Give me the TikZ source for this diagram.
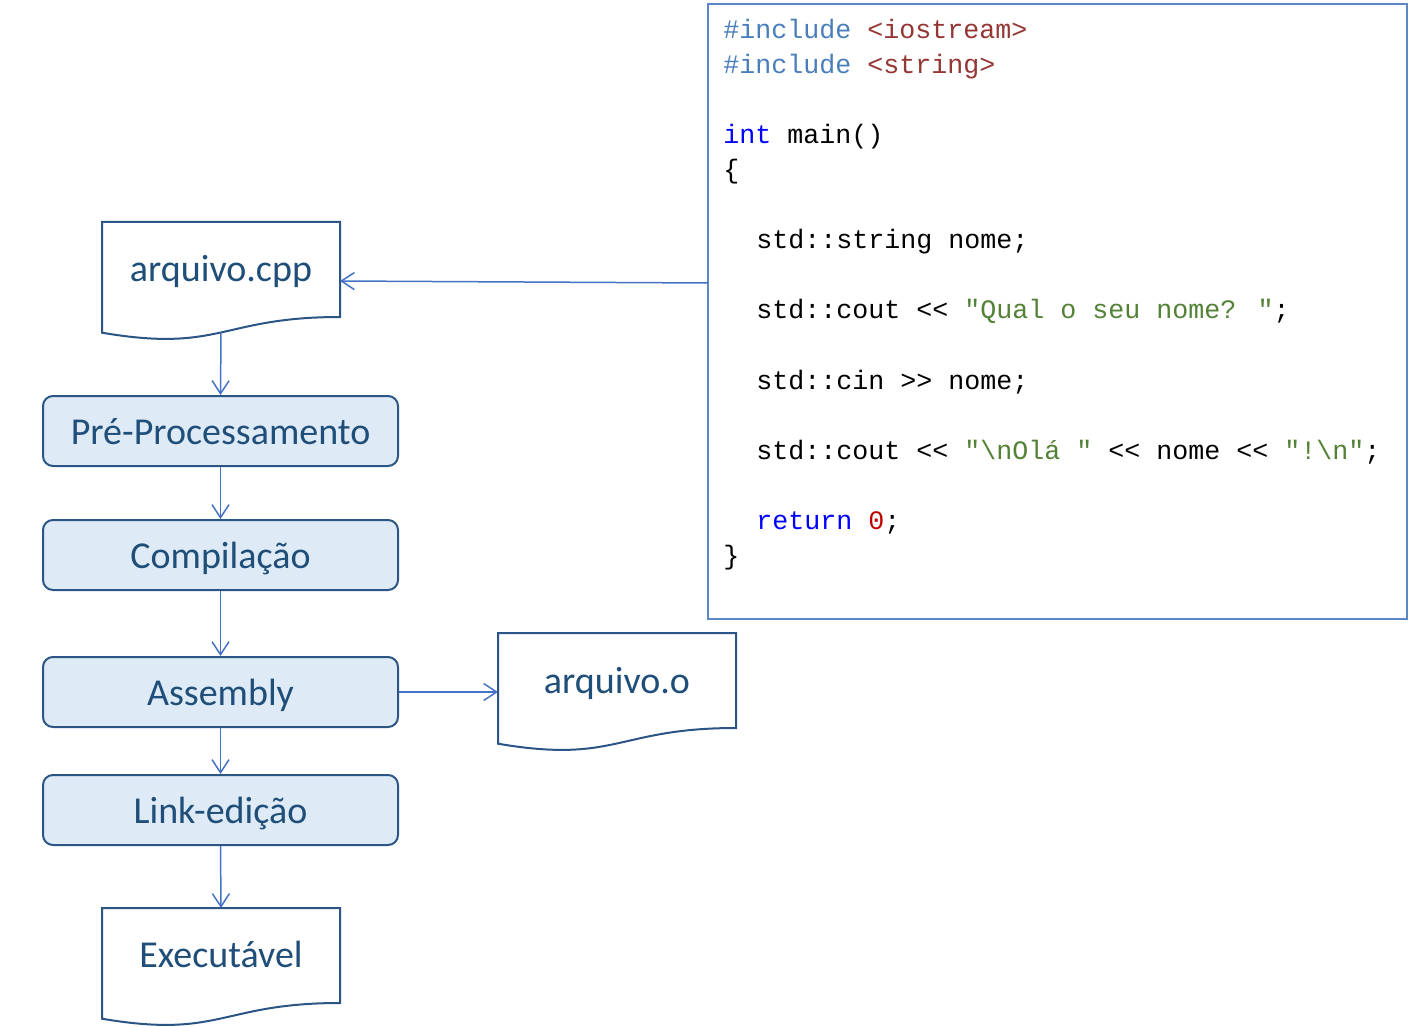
\documentclass[tikz,border=0pt]{standalone}
\usepackage{fontspec}
\setmainfont{Carlito}
\newfontfamily\codefont{Liberation Mono}[Ligatures=TeXOff]
\usetikzlibrary{arrows.meta}
\definecolor{lbl}{HTML}{1F4E79}
\definecolor{boxfill}{HTML}{DEEBF7}
\definecolor{boxline}{HTML}{2B5584}
\definecolor{flowc}{HTML}{4472C4}
\definecolor{codeline}{HTML}{5B88C4}
\definecolor{incl}{HTML}{4A7EBB}
\definecolor{hdr}{HTML}{943634}
\definecolor{kw}{HTML}{0000FF}
\definecolor{num}{HTML}{C00000}
\definecolor{str}{HTML}{538135}
\begin{document}
\begin{tikzpicture}[x=0.5pt,y=-0.5pt,
  stepbox/.style={draw=boxline, fill=boxfill, line width=1pt, rounded corners=5pt,
    minimum width=177.5pt, minimum height=35pt, inner sep=0pt,
    text height=15pt, text depth=1.8pt,
    font=\fontsize{19}{22}\selectfont, text=lbl},
  doctext/.style={anchor=base, inner sep=0pt, font=\fontsize{19}{22}\selectfont, text=lbl},
  docline/.style={draw=boxline, line width=1pt, fill=white},
  flow/.style={draw=flowc, line width=0.75pt, -{Straight Barb[length=6.5pt,width=8.5pt,line width=0.75pt]}},
  codetxt/.style={anchor=base west, inner sep=0pt, font=\codefont\fontsize{13.33}{16}\selectfont, text=black},
  docshape/.pic={\path[docline] (0,0) -- (238,0) -- (238,95) .. controls (119,95) and (119,131) .. (0,110.7) -- cycle;}
]
\useasboundingbox (0,0) rectangle (1408,1027);

% code box
\node[draw=codeline, line width=1pt, minimum width=349.5pt, minimum height=307.5pt, inner sep=0pt] (code) at (1057.5,311.5) {};
\node[codetxt] (c1) at (723,38.5) {\textcolor{incl}{\#include} \textcolor{hdr}{<iostream>}};
\node[codetxt] (c2) at (723,73.5) {\textcolor{incl}{\#include} \textcolor{hdr}{<string>}};
\node[codetxt] (c3) at (723,143.5) {\textcolor{kw}{int} main()};
\node[codetxt] (c4) at (723,179) {\{};
\node[codetxt] (c5) at (756,249) {std::string nome;};
\node[codetxt] (c6) at (756,319) {std::cout << \textcolor{str}{"Qual o seu nome? "};};
\node[codetxt] (c7) at (756,389) {std::cin >> nome;};
\node[codetxt] (c8) at (756,459) {std::cout << \textcolor{str}{"\textbackslash nOlá "} << nome << \textcolor{str}{"!\textbackslash n"};};
\node[codetxt] (c9) at (756,529) {\textcolor{kw}{return} \textcolor{num}{0};};
\node[codetxt] (c10) at (723,564) {\}};

% document shapes
\pic at (102,222) {docshape};
\pic at (498,633) {docshape};
\pic at (102,908) {docshape};
\node[doctext] (cpp) at (221,282) {arquivo.cpp};
\node[doctext] (obj) at (617,693) {arquivo.o};
\node[doctext] (exe) at (221,967) {Executável};
\coordinate (cppS) at (221,332);
\coordinate (cppE) at (340,281);
\coordinate (objW) at (498,692);
\coordinate (exeN) at (221,908);
\coordinate (codein) at (708,283);

% process boxes
\node[stepbox] (pre) at (220.5,431) {Pré-Processamento};
\node[stepbox] (comp) at (220.5,555) {Compilação};
\node[stepbox] (asm) at (220.5,692) {Assembly};
\node[stepbox] (link) at (220.5,810) {Link-edição};

% connectors
\draw[flow] (codein) -- (cppE);
\draw[flow] (cppS) -- (pre.north);
\draw[flow] (pre.south) -- (comp.north);
\draw[flow] (comp.south) -- (asm.north);
\draw[flow] (asm.south) -- (link.north);
\draw[flow] (link.south) -- (exeN);
\draw[flow] (asm.east) -- (objW);
\end{tikzpicture}
\end{document}
